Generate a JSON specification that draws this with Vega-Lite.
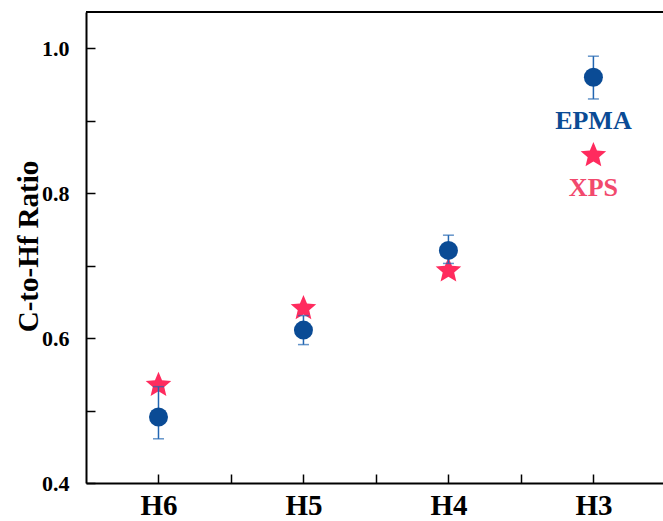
{
  "$schema": "https://vega.github.io/schema/vega-lite/v6.json",
  "width": 577,
  "height": 471,
  "autosize": "none",
  "padding": {"left": 86, "top": 12, "right": 0, "bottom": 38},
  "background": "white",
  "config": {
    "view": {"stroke": null},
    "axis": {
      "domainColor": "black",
      "domainWidth": 2,
      "tickColor": "black",
      "tickWidth": 1.5,
      "grid": false,
      "labelFont": "Liberation Serif",
      "labelFontWeight": "bold",
      "labelColor": "black",
      "titleFont": "Liberation Serif",
      "titleFontWeight": "bold",
      "titleColor": "black"
    }
  },
  "data": {
    "values": [
      {"idx": 1, "sample": "H6", "method": "EPMA", "ratio": 0.491, "lo": 0.461, "hi": 0.533},
      {"idx": 2, "sample": "H5", "method": "EPMA", "ratio": 0.611, "lo": 0.591, "hi": 0.631},
      {"idx": 3, "sample": "H4", "method": "EPMA", "ratio": 0.721, "lo": 0.703, "hi": 0.742},
      {"idx": 4, "sample": "H3", "method": "EPMA", "ratio": 0.960, "lo": 0.930, "hi": 0.989},
      {"idx": 1, "sample": "H6", "method": "XPS", "ratio": 0.535},
      {"idx": 2, "sample": "H5", "method": "XPS", "ratio": 0.641},
      {"idx": 3, "sample": "H4", "method": "XPS", "ratio": 0.693},
      {"idx": 4, "sample": "H3", "method": "XPS", "ratio": 0.852}
    ]
  },
  "layer": [
    {
      "transform": [{"filter": "datum.method == 'XPS'"}],
      "mark": {"type": "point", "shape": "M0,-1L0.2645,-0.3641L0.9511,-0.309L0.428,0.139L0.5878,0.809L0,0.45L-0.5878,0.809L-0.428,0.139L-0.9511,-0.309L-0.2645,-0.3641Z", "filled": true, "opacity": 1, "size": 720, "color": "#FF2B5E"},
      "encoding": {
        "x": {
          "field": "idx", "type": "quantitative",
          "scale": {"domain": [0.5, 4.48], "nice": false, "zero": false},
          "axis": {
            "title": null,
            "values": [1, 1.5, 2, 2.5, 3, 3.5, 4],
            "labelExpr": "datum.value == 1 ? 'H6' : datum.value == 2 ? 'H5' : datum.value == 3 ? 'H4' : datum.value == 4 ? 'H3' : ''",
            "labelFontSize": 29,
            "labelPadding": 17,
            "tickSize": -9,
            "encode": {"ticks": {"update": {"y2": {"signal": "datum.value % 1 != 0 ? -5 : -9"}}}}
          }
        },
        "y": {
          "field": "ratio", "type": "quantitative",
          "scale": {"domain": [0.4, 1.05], "nice": false, "zero": false},
          "axis": {
            "title": "C-to-Hf Ratio",
            "titleFontSize": 29,
            "titleX": -49,
            "titleY": 234,
            "titleAngle": -90,
            "titleAlign": "center",
            "titleBaseline": "alphabetic",
            "values": [0.4, 0.5, 0.6, 0.7, 0.8, 0.9, 1.0],
            "labelExpr": "round(datum.value * 10) % 2 == 0 ? format(datum.value, '.1f') : ''",
            "labelFontSize": 22,
            "labelPadding": 26,
            "tickSize": -9,
            "encode": {"ticks": {"update": {"x2": {"signal": "round(datum.value * 10) % 2 == 1 ? 5 : 9"}}}}
          }
        }
      }
    },
    {
      "transform": [{"filter": "datum.method == 'EPMA'"}],
      "mark": {"type": "rule", "color": "#2266B2", "strokeWidth": 1.5},
      "encoding": {
        "x": {"field": "idx", "type": "quantitative"},
        "y": {"field": "lo", "type": "quantitative"},
        "y2": {"field": "hi"}
      }
    },
    {
      "transform": [{"filter": "datum.method == 'EPMA'"}],
      "mark": {"type": "tick", "color": "#2266B2", "orient": "horizontal", "size": 11, "thickness": 1.5},
      "encoding": {
        "x": {"field": "idx", "type": "quantitative"},
        "y": {"field": "lo", "type": "quantitative"}
      }
    },
    {
      "transform": [{"filter": "datum.method == 'EPMA'"}],
      "mark": {"type": "tick", "color": "#2266B2", "orient": "horizontal", "size": 11, "thickness": 1.5},
      "encoding": {
        "x": {"field": "idx", "type": "quantitative"},
        "y": {"field": "hi", "type": "quantitative"}
      }
    },
    {
      "transform": [{"filter": "datum.method == 'EPMA'"}],
      "mark": {"type": "point", "shape": "circle", "filled": true, "opacity": 1, "size": 361, "color": "#0A4B95"},
      "encoding": {
        "x": {"field": "idx", "type": "quantitative"},
        "y": {"field": "ratio", "type": "quantitative"}
      }
    },
    {
      "data": {"values": [
        {"idx": 4, "ratio": 0.899, "word": "EPMA", "method": "EPMA"},
        {"idx": 4, "ratio": 0.807, "word": "XPS", "method": "XPS"}
      ]},
      "mark": {"type": "text", "font": "Liberation Serif", "fontWeight": "bold", "fontSize": 26, "baseline": "middle", "align": "center"},
      "encoding": {
        "x": {"field": "idx", "type": "quantitative"},
        "y": {"field": "ratio", "type": "quantitative"},
        "text": {"field": "word"},
        "color": {"field": "method", "type": "nominal", "scale": {"domain": ["EPMA", "XPS"], "range": ["#0A4B95", "#F2496D"]}, "legend": null}
      }
    },
    {
      "mark": {"type": "rule", "color": "black", "strokeWidth": 2},
      "encoding": {"y": {"datum": 1.05, "type": "quantitative"}}
    }
  ]
}
